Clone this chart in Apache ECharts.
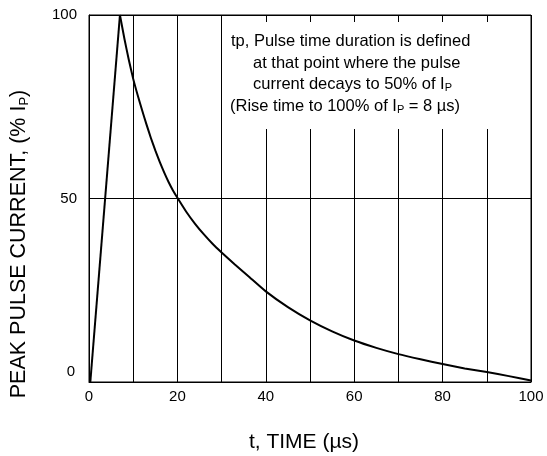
<!DOCTYPE html>
<html>
<head>
<meta charset="utf-8">
<script src="https://cdn.jsdelivr.net/npm/echarts@6/dist/echarts.min.js"></script>
<style>
html,body{margin:0;padding:0;background:#fff;}
#c{width:547px;height:456px;}
</style>
</head>
<body>
<div id="c"></div>
<script>
// Data
const riseTime = [0.3, 7];
const riseCurrent = [0, 100];
const decayTime = [7, 8, 9, 10, 11, 12, 13, 14, 15, 16, 17, 18, 19, 20, 22, 24, 26, 28, 30, 33, 36, 40, 45, 50, 55, 60, 65, 70, 75, 80, 85, 90, 95, 100];
const decayCurrent = [100, 93.6, 87.8, 82.6, 78.2, 74.1, 70.2, 66.5, 63.1, 60.0, 57.1, 54.5, 52.2, 50.2, 46.4, 43.1, 40.2, 37.6, 35.3, 32.0, 28.9, 24.7, 20.4, 16.8, 13.8, 11.3, 9.3, 7.6, 6.2, 4.9, 3.7, 2.7, 1.6, 0.4];
const xTickLabels = [0, 20, 40, 60, 80, 100];
const yTickLabels = [0, 50, 100];
const noteLines = [
  'tp, Pulse time duration is defined',
  'at that point where the pulse',
  'current decays to 50% of I',
  '(Rise time to 100% of I'
];

const FONT = "'Liberation Sans', Arial, sans-serif";
const chart = echarts.init(document.getElementById('c'));

const rise = riseTime.map((t, i) => [t, riseCurrent[i]]);
const decay = decayTime.map((t, i) => [t, decayCurrent[i]]);

const NOTE_FS = 16.5;
const subStyle = {fontSize: 11, fontFamily: FONT, color: '#000', verticalAlign: 'bottom', lineHeight: 12};
const mainStyle = {fontSize: NOTE_FS, fontFamily: FONT, color: '#000', lineHeight: 19};

chart.setOption({
  animation: false,
  grid: {left: 89, right: 16, top: 15, bottom: 74, show: true, borderColor: '#000', borderWidth: 1},
  xAxis: {
    type: 'value', min: 0, max: 100, interval: 10,
    axisLine: {lineStyle: {color: '#000', width: 1}},
    axisTick: {show: false},
    splitLine: {show: true, lineStyle: {color: '#000', width: 1}},
    axisLabel: {
      color: '#000', fontSize: 15, fontFamily: FONT, margin: 7,
      formatter: v => xTickLabels.indexOf(v) >= 0 ? String(v) : ''
    }
  },
  yAxis: {
    type: 'value', min: 0, max: 100, interval: 50,
    axisLine: {lineStyle: {color: '#000', width: 1}},
    axisTick: {show: false},
    splitLine: {show: true, lineStyle: {color: '#000', width: 1}},
    axisLabel: {
      color: '#000', fontSize: 15, fontFamily: FONT, margin: 12,
      formatter: v => yTickLabels.indexOf(v) < 0 ? '' : (v === 0 ? '{z|0}' : String(v)),
      rich: {z: {fontSize: 15, fontFamily: FONT, color: '#000', padding: [0, 2, 20, 0]}}
    }
  },
  series: [
    {type: 'line', data: rise, symbol: 'none', lineStyle: {color: '#000', width: 2}, z: 5},
    {type: 'line', data: decay, symbol: 'none', smooth: 0.15, lineStyle: {color: '#000', width: 2, join: 'round'}, z: 5}
  ],
  graphic: [
    {type: 'rect', z: 100, shape: {x: 225, y: 22, width: 275, height: 107}, style: {fill: '#fff'}},
    {type: 'text', z: 101, x: 231, y: 41, style: {text: noteLines[0], font: NOTE_FS + 'px ' + FONT, fill: '#000', verticalAlign: 'middle'}},
    {type: 'text', z: 101, x: 253, y: 63, style: {text: noteLines[1], font: NOTE_FS + 'px ' + FONT, fill: '#000', verticalAlign: 'middle'}},
    {type: 'text', z: 101, x: 253, y: 84, style: {
      text: '{m|' + noteLines[2] + '}{s|P}', verticalAlign: 'middle',
      rich: {m: mainStyle, s: subStyle}
    }},
    {type: 'text', z: 101, x: 230, y: 106, style: {
      text: '{m|' + noteLines[3] + '}{s|P}{m| = 8 µs)}', verticalAlign: 'middle',
      rich: {m: mainStyle, s: subStyle}
    }},
    {type: 'text', z: 101, x: 304, y: 442, style: {
      text: 't, TIME (µs)', font: '21px ' + FONT, fill: '#000', align: 'center', verticalAlign: 'middle'
    }},
    {type: 'text', z: 101, x: 19, y: 244, rotation: Math.PI / 2, style: {
      text: '{m|PEAK PULSE CURRENT, (% I}{s|P}{m|)}', align: 'center', verticalAlign: 'middle',
      rich: {m: {fontSize: 21.5, fontFamily: FONT, color: '#000', lineHeight: 24}, s: {fontSize: 13, fontFamily: FONT, color: '#000', verticalAlign: 'bottom', lineHeight: 14}}
    }}
  ]
});
</script>
</body>
</html>
